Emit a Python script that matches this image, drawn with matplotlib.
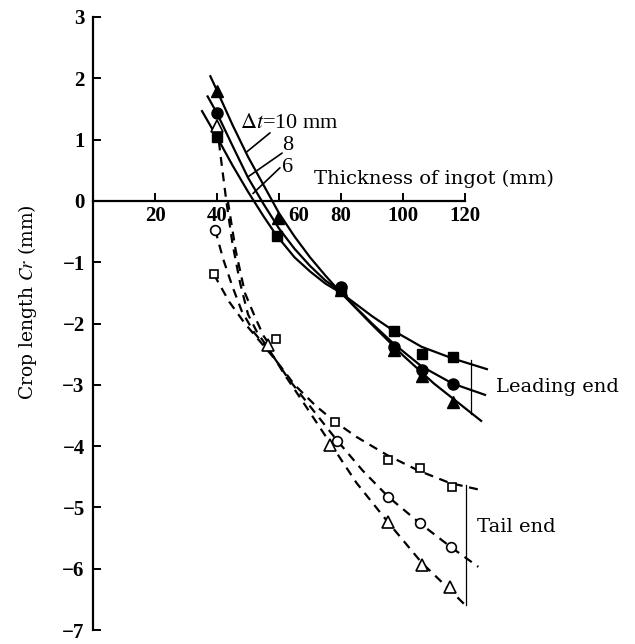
import matplotlib
matplotlib.use('Agg')
import matplotlib.pyplot as plt
from matplotlib.transforms import ScaledTranslation

plt.rcParams['font.family'] = ['Liberation Serif', 'DejaVu Serif']
plt.rcParams['mathtext.fontset'] = 'stix'

# ---- measured points, leading end (filled markers) ----
lead_tri_x = [40, 59.7, 80, 97, 106, 116]
lead_tri_y = [1.80, -0.28, -1.46, -2.44, -2.85, -3.28]
lead_cir_x = [40, 80, 97, 106, 116]
lead_cir_y = [1.43, -1.41, -2.39, -2.76, -2.99]
lead_sq_x = [40, 59.4, 80, 97, 106, 116]
lead_sq_y = [1.04, -0.57, -1.46, -2.12, -2.50, -2.54]

# ---- measured points, tail end (open markers) ----
tail_tri_x = [40, 56.5, 76.5, 95.3, 106, 115.2]
tail_tri_y = [1.22, -2.35, -3.99, -5.24, -5.94, -6.30]
tail_cir_x = [39.4, 78.6, 95.3, 105.5, 115.5]
tail_cir_y = [-0.47, -3.91, -4.83, -5.26, -5.65]
tail_sq_x = [39, 59, 78, 95.3, 105.5, 115.7]
tail_sq_y = [-1.20, -2.25, -3.61, -4.22, -4.35, -4.66]

# ---- fitted curves ----
fit10_x = [37.7, 40, 45, 50, 55, 60, 65, 70, 75, 80, 90, 100, 110, 120, 125.5]
fit10_y = [2.05, 1.80, 1.24, 0.72, 0.26, -0.20, -0.58, -0.92, -1.22, -1.50, -2.02, -2.52, -2.98, -3.38, -3.60]
fit8_x = [36.8, 40, 45, 50, 55, 60, 65, 70, 75, 80, 85, 90, 97, 106, 116, 126.8]
fit8_y = [1.72, 1.43, 0.90, 0.38, -0.05, -0.45, -0.78, -1.06, -1.30, -1.48, -1.75, -2.00, -2.33, -2.70, -2.98, -3.17]
fit6_x = [35, 40, 45, 50, 55, 59, 65, 70, 75, 80, 90, 97, 106, 116, 127.4]
fit6_y = [1.48, 1.04, 0.58, 0.15, -0.25, -0.55, -0.92, -1.15, -1.35, -1.50, -1.88, -2.12, -2.38, -2.57, -2.75]

tfit_tri_x = [40, 41.5, 43, 45, 47.5, 50, 53, 56.5, 62, 68, 76.5, 85, 95.3, 106, 115.2, 120]
tfit_tri_y = [1.22, 0.60, 0.00, -0.70, -1.35, -1.85, -2.15, -2.40, -2.85, -3.30, -3.95, -4.60, -5.25, -5.90, -6.35, -6.59]
tfit_b_x = [43.5, 46, 49, 52.3, 55, 57]
tfit_b_y = [0.00, -0.80, -1.50, -1.90, -2.20, -2.35]
tfit_cir_x = [39.4, 42, 45, 48, 52, 57, 63, 70, 78.6, 87, 95.3, 105.5, 115.5, 124.3]
tfit_cir_y = [-0.47, -0.95, -1.40, -1.80, -2.15, -2.45, -2.90, -3.35, -3.90, -4.40, -4.83, -5.26, -5.65, -5.97]
tfit_sq_x = [39, 44, 49, 54, 59, 65, 72, 78, 85, 95, 105, 115, 125.4]
tfit_sq_y = [-1.20, -1.65, -2.00, -2.30, -2.60, -3.00, -3.35, -3.60, -3.85, -4.15, -4.40, -4.60, -4.72]

# brackets at the right end
lead_brk_x = [122, 122]
lead_brk_y = [-2.60, -3.48]
tail_brk_x = [120.3, 120.3]
tail_brk_y = [-4.63, -6.59]

xticks = [20, 40, 60, 80, 100, 120]
yticks = list(range(-7, 4))

fig = plt.figure(figsize=(6.35, 6.44), dpi=100)
ax = fig.add_axes([93 / 635, 14 / 644, 542 / 635, 613 / 644])
ax.set_xlim(0, 542 / 3.1)
ax.set_ylim(-7, 3)

# fitted lines
for fx, fy in [(fit10_x, fit10_y), (fit8_x, fit8_y), (fit6_x, fit6_y)]:
    ax.plot(fx, fy, color='black', lw=1.6, solid_capstyle='butt', clip_on=False)
for fx, fy in [(tfit_tri_x, tfit_tri_y), (tfit_b_x, tfit_b_y),
               (tfit_cir_x, tfit_cir_y), (tfit_sq_x, tfit_sq_y)]:
    ax.plot(fx, fy, color='black', lw=1.6, ls=(0, (4, 3)), clip_on=False)

# markers
ax.plot(lead_tri_x, lead_tri_y, '^', color='black', ms=8, ls='none', clip_on=False)
ax.plot(lead_cir_x, lead_cir_y, 'o', color='black', ms=8, ls='none', clip_on=False)
ax.plot(lead_sq_x, lead_sq_y, 's', color='black', ms=7, ls='none', clip_on=False)
ax.plot(tail_tri_x, tail_tri_y, '^', mfc='white', mec='black', mew=1.2, ms=8, ls='none', clip_on=False)
ax.plot(tail_cir_x, tail_cir_y, 'o', mfc='white', mec='black', mew=1.2, ms=7, ls='none', clip_on=False)
ax.plot(tail_sq_x, tail_sq_y, 's', mfc='white', mec='black', mew=1.2, ms=6, ls='none', clip_on=False)

ax.plot(lead_brk_x, lead_brk_y, color='black', lw=0.9, clip_on=False)
ax.plot(tail_brk_x, tail_brk_y, color='black', lw=0.9, clip_on=False)

# labels on the curves
ax.text(47.4, 1.27, r'$\mathit{\Delta t}$=10 mm', fontsize=16, va='center', ha='left')
ax.text(62.9, 0.90, '8', fontsize=16, va='center', ha='center')
ax.text(62.9, 0.54, '6', fontsize=16, va='center', ha='center')
for xy, xt in [((49.6, 0.80), (57.1, 1.11)), ((50.2, 0.40), (61.0, 0.78)), ((51.6, 0.12), (60.3, 0.54))]:
    ax.annotate('', xy=xy, xytext=xt, arrowprops=dict(arrowstyle='-', color='black', lw=1.2, shrinkA=0, shrinkB=0))

serif2 = ['DejaVu Serif']
ax.text(110, 0.36, 'Thickness of ingot (mm)', fontsize=14, family=serif2, ha='center', va='center')
ax.text(130, -3.04, 'Leading end', fontsize=14, family=serif2, ha='left', va='center')
ax.text(124, -5.32, 'Tail end', fontsize=14, family=serif2, ha='left', va='center')

# axes styling
ax.spines['top'].set_visible(False)
ax.spines['right'].set_visible(False)
ax.spines['left'].set_bounds(-7, 3)
ax.spines['left'].set_linewidth(1.6)
ax.spines['bottom'].set_position(('data', 0))
ax.spines['bottom'].set_bounds(0, 120)
ax.spines['bottom'].set_linewidth(1.6)
ax.set_xticks(xticks)
ax.set_yticks(yticks)
ax.tick_params(axis='both', direction='in', length=6, width=1.4, labelsize=15)
ax.tick_params(axis='y', pad=6)
for lbl in ax.get_xticklabels():
    lbl.set_fontweight('bold')
for lbl in ax.get_yticklabels():
    lbl.set_fontweight('bold')
# the "60" label sits right of its tick in the original
lab60 = ax.get_xticklabels()[2]
lab60.set_transform(lab60.get_transform() + ScaledTranslation(0.2, 0, fig.dpi_scale_trans))

ax.set_ylabel('Crop length $\\mathit{Cr}$ (mm)', fontsize=13.5, family=serif2)
ax.yaxis.set_label_coords(-0.100, 0.535)

fig.savefig('out.png', dpi=100)
